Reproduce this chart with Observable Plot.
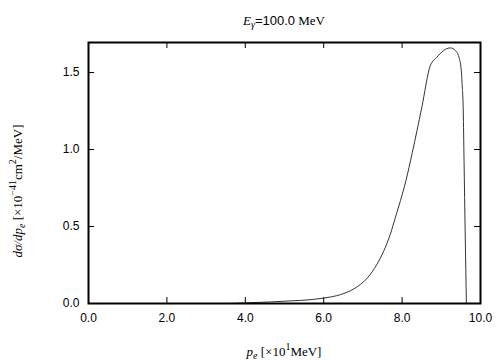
<!DOCTYPE html>
<html><head><meta charset="utf-8">
<script src="https://cdn.jsdelivr.net/npm/d3@7"></script>
<script src="https://cdn.jsdelivr.net/npm/@observablehq/plot@0.6"></script>
<style>body{margin:0;background:#fff}</style></head>
<body><div id="chart"></div>
<script>
const pe   = [3.62, 4.0, 4.64, 5.0, 5.41, 6.0, 6.43, 6.77, 7.11, 7.36, 7.53, 7.70, 7.83, 7.96, 8.09, 8.26, 8.50, 8.72, 8.89, 9.06, 9.23, 9.36, 9.45, 9.51, 9.53, 9.56, 9.58, 9.61, 9.64];
const dsig = [0.0, 0.004, 0.010, 0.015, 0.020, 0.035, 0.058, 0.095, 0.165, 0.255, 0.34, 0.45, 0.56, 0.67, 0.79, 0.98, 1.27, 1.545, 1.60, 1.643, 1.66, 1.643, 1.60, 1.513, 1.43, 1.25, 0.93, 0.45, 0.0];
const xTicks = [0, 2, 4, 6, 8, 10];
const yTicks = [0, 0.5, 1.0, 1.5];
const titleText = ["E", "\u03B3", "=", "100.0", " MeV"];
const yLabelText = ["d\u03C3/dp", "e", " [\u00D710", "\u221241", "cm", "2", "/MeV]"];
const xLabelText = ["p", "e", " [\u00D710", "1", "MeV]"];

const data = pe.map((x, i) => ({x, y: dsig[i]}));
const W = 504, H = 360, mL = 88, mR = 24, mT = 42, mB = 57;
const fw = W - mL - mR, fh = H - mT - mB;

const chart = Plot.plot({
  width: W, height: H, marginLeft: mL, marginRight: mR, marginTop: mT, marginBottom: mB,
  style: {fontFamily: "'Liberation Sans', Arial, sans-serif", fontSize: "12px", color: "#000", background: "#fff"},
  x: {domain: [0, 10]},
  y: {domain: [0, 1.695]},
  marks: [
    Plot.axisX(xTicks, {anchor: "bottom", tickSize: 0, tickPadding: 10, tickFormat: d => d.toFixed(1), label: null}),
    Plot.axisY(yTicks, {anchor: "left", tickSize: 0, tickPadding: 9, tickFormat: d => d.toFixed(1), label: null}),
    Plot.tickX(xTicks, {x: d => d, insetTop: fh - 6, stroke: "#000"}),
    Plot.tickX(xTicks, {x: d => d, insetBottom: fh - 6, stroke: "#000"}),
    Plot.tickY(yTicks, {y: d => d, insetRight: fw - 6, stroke: "#000"}),
    Plot.tickY(yTicks, {y: d => d, insetLeft: fw - 6, stroke: "#000"}),
    Plot.line(data, {x: "x", y: "y", stroke: "#333", strokeWidth: 1, curve: "monotone-x"}),
    Plot.frame({stroke: "#000", strokeWidth: 2})
  ]
});
document.getElementById("chart").appendChild(chart);

const svg = d3.select(chart);
const serif = "'Liberation Serif', 'Times New Roman', serif";
const sans = "'Liberation Sans', Arial, sans-serif";

// title
const t = svg.append("text").attr("x", (mL + W - mR) / 2).attr("y", 25)
  .attr("text-anchor", "middle").attr("font-family", serif).attr("font-size", 13).attr("fill", "#000");
t.append("tspan").attr("font-style", "italic").text(titleText[0]);
t.append("tspan").attr("font-style", "italic").attr("font-size", 10).attr("dy", 3).text(titleText[1]);
t.append("tspan").attr("dy", -3).attr("font-family", sans).text(titleText[2]);
t.append("tspan").attr("font-family", sans).text(titleText[3]);
t.append("tspan").text(titleText[4]);

// y label
const yl = svg.append("text").attr("transform", "translate(22,191) rotate(-90)")
  .attr("text-anchor", "middle").attr("font-family", serif).attr("font-size", 13).attr("fill", "#000");
yl.append("tspan").attr("font-style", "italic").text(yLabelText[0]);
yl.append("tspan").attr("font-style", "italic").attr("font-size", 10).attr("dy", 3).text(yLabelText[1]);
yl.append("tspan").attr("dy", -3).text(yLabelText[2]);
yl.append("tspan").attr("font-size", 10).attr("dy", -6).text(yLabelText[3]);
yl.append("tspan").attr("dy", 6).text(yLabelText[4]);
yl.append("tspan").attr("font-size", 10).attr("dy", -6).text(yLabelText[5]);
yl.append("tspan").attr("dy", 6).text(yLabelText[6]);

// x label
const xl = svg.append("text").attr("x", 284).attr("y", 356)
  .attr("text-anchor", "middle").attr("font-family", serif).attr("font-size", 13).attr("fill", "#000");
xl.append("tspan").attr("font-style", "italic").text(xLabelText[0]);
xl.append("tspan").attr("font-style", "italic").attr("font-size", 10).attr("dy", 3).text(xLabelText[1]);
xl.append("tspan").attr("dy", -3).text(xLabelText[2]);
xl.append("tspan").attr("font-size", 10).attr("dy", -6).text(xLabelText[3]);
xl.append("tspan").attr("dy", 6).text(xLabelText[4]);
</script>
</body></html>
